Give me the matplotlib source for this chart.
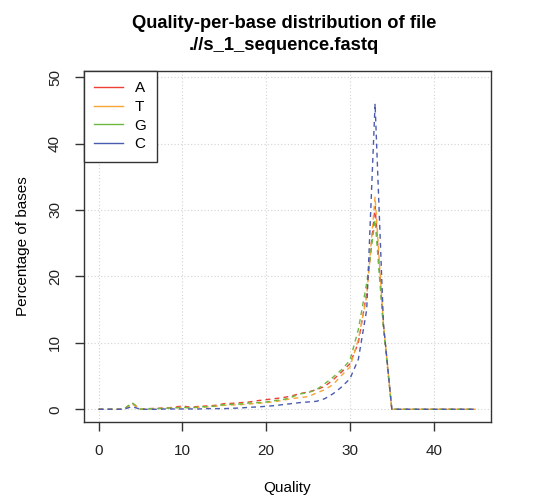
import numpy as np
import matplotlib.pyplot as plt
from matplotlib.lines import Line2D

plt.rcParams['font.family'] = ['Liberation Sans', 'DejaVu Sans']

# Quality scores 0..45 and percentage of bases per nucleotide
quality = list(range(46))
pct_a = [0, 0, 0, 0, 0.9, 0, 0.1, 0.15, 0.2, 0.3, 0.5, 0.3, 0.45, 0.5, 0.6, 0.85,
         0.9, 1.0, 1.1, 1.3, 1.45, 1.6, 1.75, 2.0, 2.35, 2.6, 2.95, 3.45, 4.45, 5.6,
         6.85, 10.0, 17.5, 30.5, 12.5] + [0] * 11
pct_t = [0, 0, 0, 0, 0.8, 0, 0.05, 0.1, 0.15, 0.2, 0.3, 0.2, 0.3, 0.35, 0.45, 0.6,
         0.65, 0.7, 0.8, 0.9, 1.0, 1.15, 1.35, 1.6, 1.75, 1.9, 2.45, 2.95, 3.75, 5.1,
         6.35, 10.5, 17.0, 32.0, 12.8] + [0] * 11
pct_g = [0, 0, 0, 0, 1.0, 0, 0.05, 0.1, 0.15, 0.2, 0.3, 0.2, 0.35, 0.4, 0.5, 0.7,
         0.75, 0.8, 0.95, 1.0, 1.1, 1.3, 1.45, 1.8, 2.3, 2.5, 2.95, 3.85, 4.85, 5.95,
         7.35, 12.0, 19.0, 28.5, 12.2] + [0] * 11
pct_c = [0, 0, 0, 0, 0.4, 0, 0, 0, 0.05, 0.05, 0.05, 0.05, 0.05, 0.1, 0.1, 0.1,
         0.15, 0.2, 0.3, 0.35, 0.45, 0.55, 0.7, 0.85, 1.0, 1.1, 1.2, 1.6, 2.35, 3.35,
         4.6, 7.5, 15.0, 46.0, 12.9] + [0] * 11

bases = ['A', 'T', 'G', 'C']
colores = ['#EE4035', '#F7A535', '#6DB940', '#4A5BB0']
series = [pct_a, pct_t, pct_g, pct_c]

fig = plt.figure(figsize=(5.35, 4.95), dpi=100)
ax = fig.add_axes([83.5 / 535, 1 - 422.3 / 495, 407.2 / 535, 351.6 / 495])

for vals, col in zip(series, colores):
    ax.plot(quality, vals, color=col, lw=1.0, dashes=(3.5, 3))

ax.set_xlim(-1.8, 46.8)
ax.set_ylim(-1.96, 50.96)
ax.set_xticks(range(0, 41, 10))
ax.set_yticks(range(0, 51, 10))
ax.grid(True, color='#d3d3d3', linestyle=(0, (1, 2)), lw=0.8)
ax.set_axisbelow(True)

for s in ax.spines.values():
    s.set_color('#333333')
    s.set_linewidth(1.0)
ax.tick_params(direction='out', length=6.5, width=1.0, color='#333333',
               labelsize=11, labelcolor='#222222', pad=9)
for lab in ax.get_yticklabels():
    lab.set_rotation(90)
    lab.set_va('center')

ax.set_xlabel('Quality', fontsize=11, labelpad=17)
ax.set_ylabel('Percentage of bases', fontsize=11, labelpad=13)

handles = [Line2D([], [], color=c, lw=1.0) for c in colores]
leg = ax.legend(handles, bases, loc='upper left', borderaxespad=0, fancybox=False,
                edgecolor='#333333', fontsize=11, handlelength=1.9,
                handletextpad=0.75, labelspacing=0.3, borderpad=0.7, framealpha=1)
leg.get_frame().set_linewidth(1.0)

fig.text(284 / 535, 1 - 23 / 495, 'Quality-per-base distribution of file',
         ha='center', va='center', fontsize=13.2, fontweight='bold')
fig.text(284 / 535, 1 - 45 / 495, './/s_1_sequence.fastq',
         ha='center', va='center', fontsize=13.2, fontweight='bold')

plt.savefig('out.png', dpi=100)
